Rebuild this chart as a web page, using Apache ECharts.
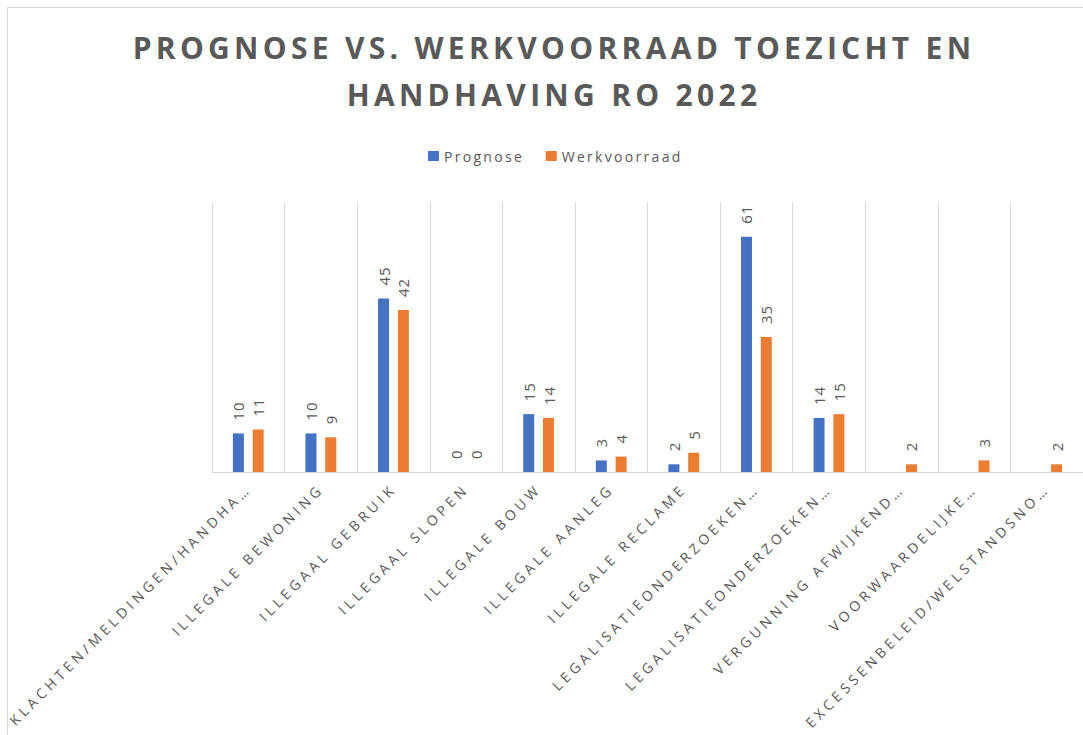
<!DOCTYPE html>
<html>
<head>
<meta charset="utf-8">
<title>Prognose vs. werkvoorraad</title>
<script src="https://cdn.jsdelivr.net/npm/echarts@6/dist/echarts.min.js"></script>
<style>
  html, body { margin: 0; padding: 0; background: #ffffff; overflow: hidden; }
  #chart { width: 1083px; height: 735px; }
  /* spatiëring zoals in de Excel-grafiek (svg-renderer) */
  #chart text[style*="Arial"] { letter-spacing: 4.3px; }
  #chart text[style*="Verdana"] { letter-spacing: 4px; }
  #chart text[style*="Tahoma"] { letter-spacing: 2.3px; }
  #chart text[style*="Georgia"] { letter-spacing: 0.8px; }
</style>
</head>
<body>
<div id="chart"></div>
<script>
// categorieën zoals ze (afgekort) op de as staan
const categories = [
  'KLACHTEN/MELDINGEN/HANDHA…',
  'ILLEGALE BEWONING',
  'ILLEGAAL GEBRUIK',
  'ILLEGAAL SLOPEN',
  'ILLEGALE BOUW',
  'ILLEGALE AANLEG',
  'ILLEGALE RECLAME',
  'LEGALISATIEONDERZOEKEN…',
  'LEGALISATIEONDERZOEKEN…',
  'VERGUNNING AFWIJKEND…',
  'VOORWAARDELIJKE…',
  'EXCESSENBELEID/WELSTANDSNO…'
]
const prognose = [10, 10, 45, 0, 15, 3, 2, 61, 14, null, null, null]
const werkvoorraad = [11, 9, 42, 0, 14, 4, 5, 35, 15, 2, 3, 2]
const seriesNames = ['Prognose', 'Werkvoorraad']

const TEXT_COLOR = '#595959'
const LINE_COLOR = '#d9d9d9'
const COLORS = { prognose: '#4472C4', werkvoorraad: '#ED7D31' }

const chart = echarts.init(document.getElementById('chart'), null, { renderer: 'svg' })

const barLabel = {
  show: true,
  position: 'top',
  distance: 13,
  rotate: 90,
  align: 'left',
  verticalAlign: 'middle',
  color: TEXT_COLOR,
  fontSize: 15,
  fontFamily: 'Open Sans, Georgia'
}

const option = {
  animation: false,
  title: {
    text: 'PROGNOSE VS. WERKVOORRAAD TOEZICHT EN\nHANDHAVING RO 2022',
    left: 549,
    top: 19,
    textAlign: 'center',
    textStyle: {
      color: TEXT_COLOR,
      fontFamily: 'Open Sans, Arial',
      fontWeight: 'bold',
      fontSize: 30,
      lineHeight: 47
    }
  },
  legend: {
    data: seriesNames,
    left: 423,
    top: 144,
    itemWidth: 11,
    itemHeight: 10,
    itemGap: 40,
    icon: 'rect',
    textStyle: { color: TEXT_COLOR, fontSize: 14, fontFamily: 'Open Sans, Tahoma' }
  },
  graphic: [
    {
      type: 'rect',
      silent: true,
      z: -1,
      shape: { x: 7.5, y: 7.5, width: 1100, height: 760 },
      style: { fill: 'none', stroke: LINE_COLOR, lineWidth: 1 }
    }
  ],
  grid: {
    left: 212,
    top: 202,
    width: 876,
    height: 270
  },
  xAxis: {
    type: 'category',
    data: categories,
    axisLine: { lineStyle: { color: LINE_COLOR, width: 1 } },
    axisTick: { show: false },
    splitLine: { show: true, interval: 0, lineStyle: { color: LINE_COLOR } },
    axisLabel: {
      interval: 0,
      rotate: 45,
      margin: 14,
      color: TEXT_COLOR,
      fontSize: 14,
      fontFamily: 'Open Sans, Verdana'
    }
  },
  yAxis: {
    type: 'value',
    min: 0,
    max: 70,
    axisLine: { show: false },
    axisTick: { show: false },
    axisLabel: { show: false },
    splitLine: { show: false }
  },
  series: [
    {
      name: seriesNames[0],
      type: 'bar',
      data: prognose,
      barWidth: 11,
      barGap: '80%',
      itemStyle: { color: COLORS.prognose },
      label: barLabel
    },
    {
      name: seriesNames[1],
      type: 'bar',
      data: werkvoorraad,
      barWidth: 11,
      barGap: '80%',
      itemStyle: { color: COLORS.werkvoorraad },
      label: barLabel
    }
  ]
}

chart.setOption(option)
</script>
</body>
</html>
